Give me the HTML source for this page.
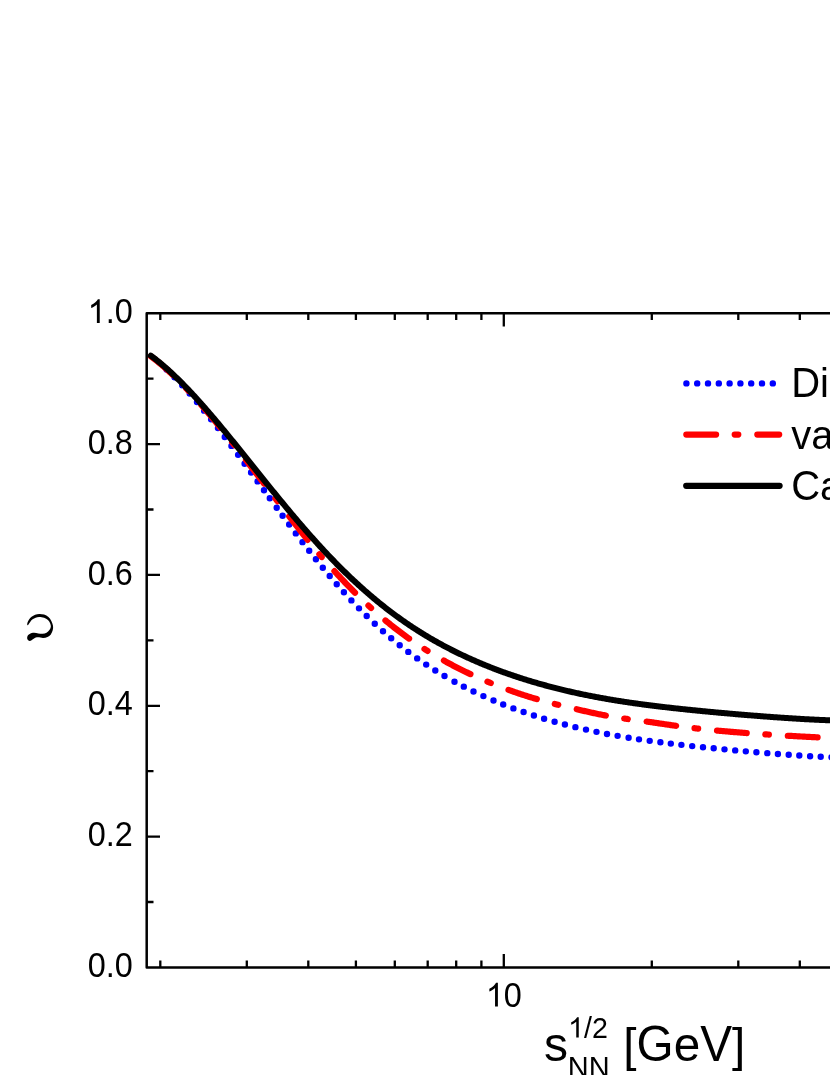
<!DOCTYPE html>
<html><head><meta charset="utf-8"><title>chart</title>
<style>html,body{margin:0;padding:0;background:#fff;}body{width:830px;height:1075px;overflow:hidden;position:relative;font-family:"Liberation Sans",sans-serif;color:#000;}svg{position:absolute;left:0;top:0;display:block;}text{font-family:"Liberation Sans",sans-serif;font-kerning:none;white-space:pre;}</style></head>
<body>
<svg width="830" height="1075" viewBox="0 0 830 1075">
<rect width="830" height="1075" fill="#fff"/>
<path d="M166.59,369.47h0 M174.56,377.27h0 M182.26,385.33h0 M189.73,393.61h0 M197.00,402.06h0 M204.12,410.64h0 M211.10,419.34h0 M217.97,428.12h0 M224.75,436.97h0 M231.45,445.88h0 M238.10,454.83h0 M244.60,463.68h0 M251.08,472.54h0 M257.54,481.42h0 M264.00,490.30h0 M269.80,498.26h0 M276.70,507.70h0 M282.60,515.71h0 M289.18,524.57h0 M295.81,533.38h0 M302.50,542.15h0 M309.20,550.77h0 M315.90,559.21h0 M322.80,567.71h0 M329.71,576.00h0 M336.74,584.19h0 M343.90,592.27h0 M351.40,600.42h0 M359.00,608.35h0 M366.70,616.05h0 M374.76,623.74h0 M383.00,631.23h0 M391.20,638.30h0 M399.70,645.26h0 M408.30,651.91h0 M417.20,658.40h0 M426.20,664.59h0 M435.30,670.46h0 M444.50,676.04h0 M454.50,681.72h0 M463.80,686.66h0 M473.50,691.50h0 M483.40,696.12h0 M493.50,700.53h0 M503.20,704.49h0 M513.40,708.40h0 M523.60,712.06h0 M533.90,715.51h0 M544.10,718.69h0 M554.60,721.75h0 M564.90,724.53h0 M575.40,727.16h0 M586.00,729.61h0 M596.50,731.86h0 M607.00,733.93h0 M617.60,735.87h0 M628.60,737.71h0 M639.00,739.33h0 M649.70,740.87h0 M660.40,742.30h0 M670.80,743.61h0 M681.40,744.86h0 M692.20,746.08h0 M703.00,747.23h0 M713.70,748.32h0 M724.50,749.37h0 M735.20,750.38h0 M745.80,751.33h0 M756.40,752.25h0 M767.30,753.16h0 M777.90,753.99h0 M788.70,754.79h0 M799.30,755.53h0 M810.10,756.20h0 M820.70,756.80h0 M831.47,757.31h0" fill="none" stroke="#0000ff" stroke-width="6.4" stroke-linecap="round"/>
<path d="M150.8,356.23 L151.8,356.97 L152.8,357.73 L153.8,358.50 L154.8,359.28 L155.8,360.06 L156.8,360.86 L157.8,361.67 L158.8,362.49 L159.8,363.32 L160.8,364.16 L161.8,365.00 L162.8,365.86 L163.8,366.73 L164.8,367.60 L165.8,368.49 L166.8,369.38 L167.8,370.28 L168.8,371.19 L169.8,372.11 L170.8,373.04 L171.8,373.98 L172.8,374.92 L173.8,375.88 L174.8,376.84 L175.8,377.81 L176.8,378.79 L177.8,379.77 L178.8,380.77 L179.8,381.77 L180.8,382.78 L181.8,383.79 L182.8,384.82 L183.8,385.85 L184.8,386.89 L185.8,387.93 L186.8,388.98 L187.8,390.04 L188.8,391.11 L189.8,392.18 L190.8,393.26 L191.8,394.34 L192.8,395.43 L193.8,396.53 L194.8,397.63 L195.8,398.74 L196.8,399.86 L197.8,400.98 L198.8,402.11 L199.8,403.24 L200.8,404.38 L201.8,405.52 L202.8,406.67 L203.8,407.82 L204.8,408.98 L205.8,410.15 L206.8,411.31 L207.8,412.49 L208.8,413.67 L209.8,414.85 L210.8,416.04 L211.8,417.23 L212.8,418.43 L213.8,419.63 L214.8,420.83 L215.8,422.04 L216.8,423.26 L217.8,424.47 L218.8,425.70 L219.8,426.92 L220.8,428.15 L221.8,429.38 L222.8,430.62 L223.8,431.86 L224.8,433.10 L225.8,434.35 L226.8,435.59 L227.8,436.85 L228.8,438.10 L229.8,439.36 L230.8,440.62 L231.8,441.88 L232.8,443.15 L233.8,444.42 L234.8,445.69 L235.8,446.96 L236.8,448.24 L237.8,449.52 L238.8,450.80 L239.8,452.08 L240.8,453.36 L241.8,454.65 L242.8,455.94 L243.8,457.23 L244.8,458.52 L245.8,459.81 L246.8,461.10 L247.8,462.40 L248.8,463.70 L249.8,465.00 L250.8,466.29 L251.8,467.60 L252.8,468.90 L253.8,470.20 L254.8,471.50 L255.8,472.81 L256.8,474.11 L257.8,475.42 L258.8,476.72 L259.8,478.03 L260.8,479.34 L261.8,480.65 L262.8,481.95 L263.8,483.26 L264.8,484.57 L265.8,485.88 L266.8,487.19 L267.8,488.50 L268.8,489.80 L269.8,491.11 L270.8,492.42 L271.8,493.73 L272.8,495.03 L273.8,496.34 L274.8,497.65 L275.8,498.95 L276.8,500.26 L277.8,501.56 L278.8,502.86 L279.8,504.17 L280.8,505.47 L281.8,506.77 L282.8,508.07 L283.8,509.37 L284.8,510.67 L285.8,511.96 L286.8,513.26 L287.8,514.55 L288.8,515.85 L289.8,517.14 L290.8,518.43 L291.8,519.72 L292.8,521.00 L293.8,522.29 L294.8,523.57 L295.8,524.85 L296.8,526.14 L297.8,527.41 L298.8,528.69 L299.8,529.97 L300.8,531.24 L301.8,532.51 L302.8,533.78 L303.8,535.05 L304.8,536.32 L305.8,537.58 L306.8,538.84 L307.8,540.10 L308.8,541.36 L309.8,542.61 L310.8,543.86 L311.8,545.11 L312.8,546.35 L313.8,547.58 L314.8,548.81 L315.8,550.03 L316.8,551.24 L317.8,552.44 L318.8,553.64 L319.8,554.82 L320.8,555.99 L321.8,557.15 L322.8,558.31 L323.8,559.45 L324.8,560.58 L325.8,561.71 L326.8,562.83 L327.8,563.94 L328.8,565.04 L329.8,566.14 L330.8,567.24 L331.8,568.33 L332.8,569.42 L333.8,570.50 L334.8,571.58 L335.8,572.66 L336.8,573.74 L337.8,574.81 L338.8,575.88 L339.8,576.95 L340.8,578.02 L341.8,579.08 L342.8,580.13 L343.8,581.19 L344.8,582.24 L345.8,583.28 L346.8,584.33 L347.8,585.36 L348.8,586.40 L349.8,587.42 L350.8,588.45 L351.8,589.46 L352.8,590.48 L353.8,591.48 L354.8,592.48 L355.8,593.48 L356.8,594.47 L357.8,595.45 L358.8,596.43 L359.8,597.41 L360.8,598.37 L361.8,599.34 L362.8,600.29 L363.8,601.24 L364.8,602.19 L365.8,603.13 L366.8,604.06 L367.8,604.99 L368.8,605.91 L369.8,606.83 L370.8,607.74 L371.8,608.65 L372.8,609.55 L373.8,610.44 L374.8,611.33 L375.8,612.22 L376.8,613.09 L377.8,613.97 L378.8,614.83 L379.8,615.70 L380.8,616.55 L381.8,617.40 L382.8,618.25 L383.8,619.09 L384.8,619.93 L385.8,620.76 L386.8,621.58 L387.8,622.40 L388.8,623.21 L389.8,624.02 L390.8,624.82 L391.8,625.62 L392.8,626.42 L393.8,627.20 L394.8,627.99 L395.8,628.76 L396.8,629.54 L397.8,630.30 L398.8,631.07 L399.8,631.82 L400.8,632.58 L401.8,633.32 L402.8,634.06 L403.8,634.80 L404.8,635.53 L405.8,636.26 L406.8,636.98 L407.8,637.70 L408.8,638.41 L409.8,639.12 L410.8,639.83 L411.8,640.52 L412.8,641.22 L413.8,641.91 L414.8,642.59 L415.8,643.27 L416.8,643.95 L417.8,644.62 L418.8,645.28 L419.8,645.94 L420.8,646.60 L421.8,647.25 L422.8,647.90 L423.8,648.54 L424.8,649.18 L425.8,649.82 L426.8,650.45 L427.8,651.07 L428.8,651.69 L429.8,652.31 L430.8,652.92 L431.8,653.53 L432.8,654.14 L433.8,654.74 L434.8,655.33 L435.8,655.93 L436.8,656.51 L437.8,657.10 L438.8,657.68 L439.8,658.25 L440.8,658.82 L441.8,659.39 L442.8,659.96 L443.8,660.52 L444.8,661.07 L445.8,661.63 L446.8,662.18 L447.8,662.72 L448.8,663.26 L449.8,663.80 L450.8,664.33 L451.8,664.86 L452.8,665.39 L453.8,665.91 L454.8,666.43 L455.8,666.95 L456.8,667.46 L457.8,667.97 L458.8,668.48 L459.8,668.98 L460.8,669.48 L461.8,669.97 L462.8,670.47 L463.8,670.96 L464.8,671.44 L465.8,671.92 L466.8,672.40 L467.8,672.88 L468.8,673.35 L469.8,673.82 L470.8,674.29 L471.8,674.75 L472.8,675.21 L473.8,675.67 L474.8,676.13 L475.8,676.58 L476.8,677.03 L477.8,677.47 L478.8,677.92 L479.8,678.36 L480.8,678.79 L481.8,679.23 L482.8,679.66 L483.8,680.09 L484.8,680.51 L485.8,680.94 L486.8,681.36 L487.8,681.78 L488.8,682.19 L489.8,682.60 L490.8,683.01 L491.8,683.42 L492.8,683.82 L493.8,684.23 L494.8,684.63 L495.8,685.02 L496.8,685.42 L497.8,685.81 L498.8,686.20 L499.8,686.58 L500.8,686.97 L501.8,687.35 L502.8,687.73 L503.8,688.10 L504.8,688.48 L505.8,688.85 L506.8,689.22 L507.8,689.58 L508.8,689.95 L509.8,690.31 L510.8,690.67 L511.8,691.02 L512.8,691.38 L513.8,691.73 L514.8,692.07 L515.8,692.42 L516.8,692.76 L517.8,693.10 L518.8,693.44 L519.8,693.78 L520.8,694.11 L521.8,694.44 L522.8,694.77 L523.8,695.09 L524.8,695.42 L525.8,695.74 L526.8,696.05 L527.8,696.37 L528.8,696.68 L529.8,696.99 L530.8,697.30 L531.8,697.60 L532.8,697.91 L533.8,698.21 L534.8,698.50 L535.8,698.80 L536.8,699.09 L537.8,699.38 L538.8,699.67 L539.8,699.95 L540.8,700.24 L541.8,700.52 L542.8,700.79 L543.8,701.07 L544.8,701.34 L545.8,701.61 L546.8,701.88 L547.8,702.15 L548.8,702.41 L549.8,702.68 L550.8,702.94 L551.8,703.20 L552.8,703.46 L553.8,703.71 L554.8,703.97 L555.8,704.22 L556.8,704.47 L557.8,704.72 L558.8,704.97 L559.8,705.22 L560.8,705.46 L561.8,705.71 L562.8,705.95 L563.8,706.19 L564.8,706.43 L565.8,706.67 L566.8,706.91 L567.8,707.15 L568.8,707.39 L569.8,707.63 L570.8,707.86 L571.8,708.10 L572.8,708.33 L573.8,708.57 L574.8,708.80 L575.8,709.03 L576.8,709.27 L577.8,709.50 L578.8,709.73 L579.8,709.96 L580.8,710.19 L581.8,710.43 L582.8,710.66 L583.8,710.89 L584.8,711.11 L585.8,711.34 L586.8,711.57 L587.8,711.79 L588.8,712.02 L589.8,712.24 L590.8,712.46 L591.8,712.68 L592.8,712.90 L593.8,713.12 L594.8,713.33 L595.8,713.54 L596.8,713.75 L597.8,713.96 L598.8,714.17 L599.8,714.37 L600.8,714.57 L601.8,714.77 L602.8,714.97 L603.8,715.16 L604.8,715.35 L605.8,715.54 L606.8,715.72 L607.8,715.90 L608.8,716.08 L609.8,716.26 L610.8,716.43 L611.8,716.60 L612.8,716.77 L613.8,716.93 L614.8,717.09 L615.8,717.25 L616.8,717.41 L617.8,717.57 L618.8,717.72 L619.8,717.87 L620.8,718.02 L621.8,718.17 L622.8,718.31 L623.8,718.46 L624.8,718.60 L625.8,718.74 L626.8,718.88 L627.8,719.02 L628.8,719.16 L629.8,719.29 L630.8,719.43 L631.8,719.56 L632.8,719.69 L633.8,719.83 L634.8,719.96 L635.8,720.09 L636.8,720.23 L637.8,720.36 L638.8,720.49 L639.8,720.62 L640.8,720.76 L641.8,720.89 L642.8,721.02 L643.8,721.16 L644.8,721.30 L645.8,721.43 L646.8,721.57 L647.8,721.71 L648.8,721.85 L649.8,721.99 L650.8,722.14 L651.8,722.28 L652.8,722.42 L653.8,722.57 L654.8,722.72 L655.8,722.86 L656.8,723.01 L657.8,723.16 L658.8,723.31 L659.8,723.46 L660.8,723.61 L661.8,723.75 L662.8,723.90 L663.8,724.05 L664.8,724.20 L665.8,724.35 L666.8,724.50 L667.8,724.65 L668.8,724.79 L669.8,724.94 L670.8,725.08 L671.8,725.23 L672.8,725.37 L673.8,725.52 L674.8,725.66 L675.8,725.80 L676.8,725.94 L677.8,726.08 L678.8,726.21 L679.8,726.35 L680.8,726.48 L681.8,726.62 L682.8,726.75 L683.8,726.88 L684.8,727.01 L685.8,727.13 L686.8,727.26 L687.8,727.38 L688.8,727.51 L689.8,727.63 L690.8,727.75 L691.8,727.87 L692.8,727.99 L693.8,728.11 L694.8,728.23 L695.8,728.34 L696.8,728.46 L697.8,728.57 L698.8,728.68 L699.8,728.79 L700.8,728.90 L701.8,729.01 L702.8,729.12 L703.8,729.23 L704.8,729.33 L705.8,729.44 L706.8,729.54 L707.8,729.65 L708.8,729.75 L709.8,729.85 L710.8,729.95 L711.8,730.05 L712.8,730.15 L713.8,730.25 L714.8,730.34 L715.8,730.44 L716.8,730.53 L717.8,730.63 L718.8,730.72 L719.8,730.82 L720.8,730.91 L721.8,731.00 L722.8,731.09 L723.8,731.18 L724.8,731.27 L725.8,731.36 L726.8,731.44 L727.8,731.53 L728.8,731.62 L729.8,731.70 L730.8,731.79 L731.8,731.87 L732.8,731.95 L733.8,732.04 L734.8,732.12 L735.8,732.20 L736.8,732.28 L737.8,732.36 L738.8,732.44 L739.8,732.52 L740.8,732.60 L741.8,732.68 L742.8,732.75 L743.8,732.83 L744.8,732.91 L745.8,732.98 L746.8,733.06 L747.8,733.13 L748.8,733.21 L749.8,733.28 L750.8,733.35 L751.8,733.43 L752.8,733.50 L753.8,733.57 L754.8,733.64 L755.8,733.71 L756.8,733.78 L757.8,733.85 L758.8,733.92 L759.8,733.99 L760.8,734.06 L761.8,734.12 L762.8,734.19 L763.8,734.26 L764.8,734.32 L765.8,734.39 L766.8,734.46 L767.8,734.52 L768.8,734.59 L769.8,734.65 L770.8,734.71 L771.8,734.78 L772.8,734.84 L773.8,734.90 L774.8,734.97 L775.8,735.03 L776.8,735.09 L777.8,735.15 L778.8,735.21 L779.8,735.27 L780.8,735.33 L781.8,735.39 L782.8,735.45 L783.8,735.51 L784.8,735.57 L785.8,735.63 L786.8,735.69 L787.8,735.75 L788.8,735.80 L789.8,735.86 L790.8,735.92 L791.8,735.97 L792.8,736.03 L793.8,736.09 L794.8,736.14 L795.8,736.20 L796.8,736.25 L797.8,736.31 L798.8,736.36 L799.8,736.41 L800.8,736.47 L801.8,736.52 L802.8,736.57 L803.8,736.63 L804.8,736.68 L805.8,736.73 L806.8,736.78 L807.8,736.83 L808.8,736.88 L809.8,736.93 L810.8,736.98 L811.8,737.03 L812.8,737.08 L813.8,737.13 L814.8,737.18 L815.8,737.23 L816.8,737.28 L817.8,737.33 L818.8,737.37 L819.8,737.42 L820.8,737.47 L821.8,737.51 L822.8,737.56 L823.8,737.61 L824.8,737.65 L825.8,737.70 L826.8,737.74 L827.8,737.79 L828.8,737.83 L829.8,737.87 L830.8,737.92 L831.8,737.96 L832.8,738.00 L833.8,738.04 L834.8,738.08 L835.8,738.13 L836.8,738.17 L837.8,738.21" fill="none" stroke="#ff0000" stroke-width="6.2" stroke-linecap="round" stroke-linejoin="round" stroke-dasharray="29.8 18.6 3.6 19.0" stroke-dashoffset="0.6905294201031609"/>
<path d="M150.8,355.68 L151.8,356.41 L152.8,357.16 L153.8,357.92 L154.8,358.69 L155.8,359.47 L156.8,360.26 L157.8,361.06 L158.8,361.87 L159.8,362.69 L160.8,363.52 L161.8,364.36 L162.8,365.21 L163.8,366.06 L164.8,366.93 L165.8,367.81 L166.8,368.69 L167.8,369.59 L168.8,370.49 L169.8,371.40 L170.8,372.32 L171.8,373.25 L172.8,374.18 L173.8,375.13 L174.8,376.08 L175.8,377.04 L176.8,378.01 L177.8,378.98 L178.8,379.97 L179.8,380.96 L180.8,381.96 L181.8,382.96 L182.8,383.97 L183.8,384.99 L184.8,386.02 L185.8,387.05 L186.8,388.09 L187.8,389.14 L188.8,390.19 L189.8,391.25 L190.8,392.32 L191.8,393.39 L192.8,394.46 L193.8,395.55 L194.8,396.64 L195.8,397.73 L196.8,398.83 L197.8,399.94 L198.8,401.05 L199.8,402.16 L200.8,403.29 L201.8,404.41 L202.8,405.54 L203.8,406.68 L204.8,407.82 L205.8,408.97 L206.8,410.11 L207.8,411.27 L208.8,412.43 L209.8,413.59 L210.8,414.76 L211.8,415.93 L212.8,417.10 L213.8,418.28 L214.8,419.46 L215.8,420.65 L216.8,421.84 L217.8,423.03 L218.8,424.22 L219.8,425.42 L220.8,426.62 L221.8,427.83 L222.8,429.04 L223.8,430.25 L224.8,431.46 L225.8,432.68 L226.8,433.89 L227.8,435.11 L228.8,436.34 L229.8,437.56 L230.8,438.79 L231.8,440.02 L232.8,441.25 L233.8,442.48 L234.8,443.72 L235.8,444.95 L236.8,446.19 L237.8,447.43 L238.8,448.67 L239.8,449.91 L240.8,451.15 L241.8,452.40 L242.8,453.64 L243.8,454.89 L244.8,456.13 L245.8,457.38 L246.8,458.63 L247.8,459.88 L248.8,461.13 L249.8,462.38 L250.8,463.63 L251.8,464.87 L252.8,466.12 L253.8,467.37 L254.8,468.62 L255.8,469.87 L256.8,471.12 L257.8,472.37 L258.8,473.62 L259.8,474.87 L260.8,476.12 L261.8,477.36 L262.8,478.61 L263.8,479.85 L264.8,481.10 L265.8,482.34 L266.8,483.58 L267.8,484.82 L268.8,486.06 L269.8,487.30 L270.8,488.54 L271.8,489.77 L272.8,491.01 L273.8,492.24 L274.8,493.47 L275.8,494.70 L276.8,495.93 L277.8,497.15 L278.8,498.38 L279.8,499.60 L280.8,500.82 L281.8,502.03 L282.8,503.25 L283.8,504.46 L284.8,505.67 L285.8,506.88 L286.8,508.09 L287.8,509.29 L288.8,510.49 L289.8,511.69 L290.8,512.88 L291.8,514.07 L292.8,515.26 L293.8,516.45 L294.8,517.63 L295.8,518.81 L296.8,519.99 L297.8,521.16 L298.8,522.33 L299.8,523.50 L300.8,524.67 L301.8,525.83 L302.8,526.99 L303.8,528.14 L304.8,529.29 L305.8,530.44 L306.8,531.58 L307.8,532.72 L308.8,533.86 L309.8,534.99 L310.8,536.12 L311.8,537.25 L312.8,538.37 L313.8,539.48 L314.8,540.60 L315.8,541.71 L316.8,542.81 L317.8,543.91 L318.8,545.01 L319.8,546.11 L320.8,547.19 L321.8,548.28 L322.8,549.36 L323.8,550.44 L324.8,551.51 L325.8,552.58 L326.8,553.64 L327.8,554.70 L328.8,555.75 L329.8,556.81 L330.8,557.85 L331.8,558.89 L332.8,559.93 L333.8,560.96 L334.8,561.99 L335.8,563.01 L336.8,564.03 L337.8,565.05 L338.8,566.06 L339.8,567.06 L340.8,568.06 L341.8,569.06 L342.8,570.05 L343.8,571.03 L344.8,572.01 L345.8,572.99 L346.8,573.96 L347.8,574.93 L348.8,575.89 L349.8,576.85 L350.8,577.80 L351.8,578.75 L352.8,579.69 L353.8,580.63 L354.8,581.56 L355.8,582.49 L356.8,583.41 L357.8,584.33 L358.8,585.24 L359.8,586.15 L360.8,587.05 L361.8,587.95 L362.8,588.84 L363.8,589.73 L364.8,590.62 L365.8,591.49 L366.8,592.37 L367.8,593.24 L368.8,594.10 L369.8,594.96 L370.8,595.81 L371.8,596.66 L372.8,597.51 L373.8,598.35 L374.8,599.18 L375.8,600.01 L376.8,600.84 L377.8,601.66 L378.8,602.47 L379.8,603.28 L380.8,604.09 L381.8,604.89 L382.8,605.68 L383.8,606.47 L384.8,607.26 L385.8,608.04 L386.8,608.82 L387.8,609.59 L388.8,610.36 L389.8,611.12 L390.8,611.88 L391.8,612.63 L392.8,613.38 L393.8,614.12 L394.8,614.86 L395.8,615.60 L396.8,616.33 L397.8,617.05 L398.8,617.77 L399.8,618.49 L400.8,619.20 L401.8,619.91 L402.8,620.61 L403.8,621.31 L404.8,622.01 L405.8,622.69 L406.8,623.38 L407.8,624.06 L408.8,624.74 L409.8,625.41 L410.8,626.08 L411.8,626.74 L412.8,627.40 L413.8,628.05 L414.8,628.70 L415.8,629.35 L416.8,629.99 L417.8,630.63 L418.8,631.26 L419.8,631.89 L420.8,632.52 L421.8,633.14 L422.8,633.76 L423.8,634.37 L424.8,634.98 L425.8,635.59 L426.8,636.19 L427.8,636.78 L428.8,637.38 L429.8,637.97 L430.8,638.55 L431.8,639.13 L432.8,639.71 L433.8,640.28 L434.8,640.85 L435.8,641.42 L436.8,641.98 L437.8,642.54 L438.8,643.10 L439.8,643.65 L440.8,644.19 L441.8,644.74 L442.8,645.28 L443.8,645.81 L444.8,646.35 L445.8,646.88 L446.8,647.40 L447.8,647.93 L448.8,648.44 L449.8,648.96 L450.8,649.47 L451.8,649.98 L452.8,650.49 L453.8,650.99 L454.8,651.49 L455.8,651.98 L456.8,652.48 L457.8,652.96 L458.8,653.45 L459.8,653.93 L460.8,654.41 L461.8,654.89 L462.8,655.36 L463.8,655.83 L464.8,656.30 L465.8,656.76 L466.8,657.22 L467.8,657.68 L468.8,658.14 L469.8,658.59 L470.8,659.04 L471.8,659.48 L472.8,659.92 L473.8,660.36 L474.8,660.80 L475.8,661.24 L476.8,661.67 L477.8,662.10 L478.8,662.52 L479.8,662.94 L480.8,663.36 L481.8,663.78 L482.8,664.20 L483.8,664.61 L484.8,665.02 L485.8,665.43 L486.8,665.83 L487.8,666.23 L488.8,666.63 L489.8,667.03 L490.8,667.42 L491.8,667.81 L492.8,668.20 L493.8,668.58 L494.8,668.97 L495.8,669.35 L496.8,669.73 L497.8,670.10 L498.8,670.48 L499.8,670.85 L500.8,671.22 L501.8,671.58 L502.8,671.95 L503.8,672.31 L504.8,672.67 L505.8,673.02 L506.8,673.38 L507.8,673.73 L508.8,674.08 L509.8,674.43 L510.8,674.77 L511.8,675.11 L512.8,675.45 L513.8,675.79 L514.8,676.13 L515.8,676.46 L516.8,676.80 L517.8,677.12 L518.8,677.45 L519.8,677.78 L520.8,678.10 L521.8,678.42 L522.8,678.74 L523.8,679.06 L524.8,679.37 L525.8,679.68 L526.8,680.00 L527.8,680.30 L528.8,680.61 L529.8,680.91 L530.8,681.22 L531.8,681.52 L532.8,681.82 L533.8,682.11 L534.8,682.41 L535.8,682.70 L536.8,682.99 L537.8,683.28 L538.8,683.56 L539.8,683.85 L540.8,684.13 L541.8,684.41 L542.8,684.69 L543.8,684.97 L544.8,685.24 L545.8,685.51 L546.8,685.79 L547.8,686.06 L548.8,686.32 L549.8,686.59 L550.8,686.85 L551.8,687.11 L552.8,687.37 L553.8,687.63 L554.8,687.89 L555.8,688.14 L556.8,688.40 L557.8,688.65 L558.8,688.90 L559.8,689.14 L560.8,689.39 L561.8,689.63 L562.8,689.88 L563.8,690.12 L564.8,690.35 L565.8,690.59 L566.8,690.83 L567.8,691.06 L568.8,691.29 L569.8,691.52 L570.8,691.75 L571.8,691.98 L572.8,692.20 L573.8,692.43 L574.8,692.65 L575.8,692.87 L576.8,693.09 L577.8,693.30 L578.8,693.52 L579.8,693.73 L580.8,693.94 L581.8,694.15 L582.8,694.36 L583.8,694.57 L584.8,694.78 L585.8,694.98 L586.8,695.18 L587.8,695.38 L588.8,695.58 L589.8,695.78 L590.8,695.98 L591.8,696.17 L592.8,696.37 L593.8,696.56 L594.8,696.75 L595.8,696.94 L596.8,697.13 L597.8,697.32 L598.8,697.50 L599.8,697.68 L600.8,697.87 L601.8,698.05 L602.8,698.23 L603.8,698.41 L604.8,698.58 L605.8,698.76 L606.8,698.93 L607.8,699.11 L608.8,699.28 L609.8,699.45 L610.8,699.62 L611.8,699.78 L612.8,699.95 L613.8,700.12 L614.8,700.28 L615.8,700.44 L616.8,700.60 L617.8,700.76 L618.8,700.92 L619.8,701.08 L620.8,701.24 L621.8,701.39 L622.8,701.55 L623.8,701.70 L624.8,701.85 L625.8,702.00 L626.8,702.15 L627.8,702.30 L628.8,702.45 L629.8,702.60 L630.8,702.74 L631.8,702.89 L632.8,703.03 L633.8,703.17 L634.8,703.31 L635.8,703.45 L636.8,703.59 L637.8,703.73 L638.8,703.87 L639.8,704.01 L640.8,704.14 L641.8,704.28 L642.8,704.41 L643.8,704.54 L644.8,704.67 L645.8,704.81 L646.8,704.94 L647.8,705.07 L648.8,705.19 L649.8,705.32 L650.8,705.45 L651.8,705.57 L652.8,705.70 L653.8,705.82 L654.8,705.95 L655.8,706.07 L656.8,706.19 L657.8,706.31 L658.8,706.43 L659.8,706.55 L660.8,706.67 L661.8,706.79 L662.8,706.91 L663.8,707.02 L664.8,707.14 L665.8,707.26 L666.8,707.37 L667.8,707.49 L668.8,707.60 L669.8,707.71 L670.8,707.82 L671.8,707.94 L672.8,708.05 L673.8,708.16 L674.8,708.27 L675.8,708.38 L676.8,708.49 L677.8,708.60 L678.8,708.70 L679.8,708.81 L680.8,708.92 L681.8,709.02 L682.8,709.13 L683.8,709.23 L684.8,709.34 L685.8,709.44 L686.8,709.55 L687.8,709.65 L688.8,709.75 L689.8,709.85 L690.8,709.96 L691.8,710.06 L692.8,710.16 L693.8,710.26 L694.8,710.36 L695.8,710.46 L696.8,710.56 L697.8,710.66 L698.8,710.76 L699.8,710.85 L700.8,710.95 L701.8,711.05 L702.8,711.14 L703.8,711.24 L704.8,711.34 L705.8,711.43 L706.8,711.53 L707.8,711.62 L708.8,711.72 L709.8,711.81 L710.8,711.90 L711.8,712.00 L712.8,712.09 L713.8,712.18 L714.8,712.28 L715.8,712.37 L716.8,712.46 L717.8,712.55 L718.8,712.64 L719.8,712.73 L720.8,712.82 L721.8,712.91 L722.8,713.00 L723.8,713.09 L724.8,713.18 L725.8,713.27 L726.8,713.36 L727.8,713.44 L728.8,713.53 L729.8,713.62 L730.8,713.71 L731.8,713.79 L732.8,713.88 L733.8,713.97 L734.8,714.05 L735.8,714.14 L736.8,714.22 L737.8,714.31 L738.8,714.39 L739.8,714.48 L740.8,714.56 L741.8,714.64 L742.8,714.73 L743.8,714.81 L744.8,714.89 L745.8,714.97 L746.8,715.06 L747.8,715.14 L748.8,715.22 L749.8,715.30 L750.8,715.38 L751.8,715.46 L752.8,715.54 L753.8,715.62 L754.8,715.70 L755.8,715.78 L756.8,715.86 L757.8,715.93 L758.8,716.01 L759.8,716.09 L760.8,716.17 L761.8,716.24 L762.8,716.32 L763.8,716.40 L764.8,716.47 L765.8,716.55 L766.8,716.62 L767.8,716.70 L768.8,716.77 L769.8,716.85 L770.8,716.92 L771.8,716.99 L772.8,717.06 L773.8,717.14 L774.8,717.21 L775.8,717.28 L776.8,717.35 L777.8,717.42 L778.8,717.49 L779.8,717.56 L780.8,717.63 L781.8,717.70 L782.8,717.77 L783.8,717.83 L784.8,717.90 L785.8,717.97 L786.8,718.03 L787.8,718.10 L788.8,718.17 L789.8,718.23 L790.8,718.29 L791.8,718.36 L792.8,718.42 L793.8,718.48 L794.8,718.55 L795.8,718.61 L796.8,718.67 L797.8,718.73 L798.8,718.79 L799.8,718.85 L800.8,718.91 L801.8,718.96 L802.8,719.02 L803.8,719.08 L804.8,719.13 L805.8,719.19 L806.8,719.24 L807.8,719.30 L808.8,719.35 L809.8,719.40 L810.8,719.46 L811.8,719.51 L812.8,719.56 L813.8,719.61 L814.8,719.66 L815.8,719.71 L816.8,719.75 L817.8,719.80 L818.8,719.85 L819.8,719.89 L820.8,719.94 L821.8,719.98 L822.8,720.02 L823.8,720.06 L824.8,720.11 L825.8,720.15 L826.8,720.19 L827.8,720.22 L828.8,720.26 L829.8,720.30 L830.8,720.33 L831.8,720.37 L832.8,720.40 L833.8,720.43 L834.8,720.47 L835.8,720.50 L836.8,720.53 L837.8,720.56" fill="none" stroke="#000" stroke-width="6.0" stroke-linecap="round" stroke-linejoin="round"/>
<path d="M840,313.3 L146.7,313.3 L146.7,967.4 L840,967.4" fill="none" stroke="#000" stroke-width="2.5" stroke-linejoin="round"/>
<path d="M160.3,967.4 v-6.8 M160.3,313.3 v6.8 M246.8,967.4 v-6.8 M246.8,313.3 v6.8 M308.3,967.4 v-6.8 M308.3,313.3 v6.8 M355.9,967.4 v-6.8 M355.9,313.3 v6.8 M394.8,967.4 v-6.8 M394.8,313.3 v6.8 M427.7,967.4 v-6.8 M427.7,313.3 v6.8 M456.2,967.4 v-6.8 M456.2,313.3 v6.8 M481.4,967.4 v-6.8 M481.4,313.3 v6.8 M503.8,967.4 v-13.3 M503.8,313.3 v13.3 M651.8,967.4 v-6.8 M651.8,313.3 v6.8 M738.3,967.4 v-6.8 M738.3,313.3 v6.8 M799.8,967.4 v-6.8 M799.8,313.3 v6.8 M146.7,902.0 h6.8 M146.7,836.6 h13.3 M146.7,771.2 h6.8 M146.7,705.8 h13.3 M146.7,640.4 h6.8 M146.7,574.9 h13.3 M146.7,509.5 h6.8 M146.7,444.1 h13.3 M146.7,378.7 h6.8" fill="none" stroke="#000" stroke-width="2.3"/>
<path d="M686.4,383.4 H776" fill="none" stroke="#0000ff" stroke-width="6.4" stroke-linecap="round" stroke-dasharray="0.01 10.79"/>
<path d="M686.3,434.6 H779.2" fill="none" stroke="#ff0000" stroke-width="6.2" stroke-linecap="round" stroke-dasharray="29.8 18.6 3.6 19.0"/>
<path d="M686.2,485.8 H779.6" fill="none" stroke="#000" stroke-width="6.2" stroke-linecap="round"/>
<path d="M27.23,624.76 C27.17,624.29 27.31,623.23 27.61,622.35 C27.92,621.47 28.40,620.38 29.06,619.46 C29.72,618.53 30.55,617.59 31.57,616.81 C32.59,616.03 33.90,615.27 35.18,614.78 C36.47,614.30 37.79,613.96 39.28,613.92 C40.76,613.88 42.57,614.04 44.10,614.54 C45.62,615.05 47.23,615.89 48.43,616.95 C49.64,618.01 50.56,619.44 51.33,620.90 C52.09,622.37 52.77,624.20 53.01,625.72 C53.25,627.25 53.13,628.61 52.77,630.06 C52.41,631.51 51.73,633.23 50.84,634.40 C49.96,635.56 48.76,636.45 47.47,637.05 C46.18,637.65 44.74,637.97 43.13,638.01 C41.53,638.05 39.28,637.25 37.83,637.29 C36.39,637.33 35.50,637.77 34.46,638.25 C33.41,638.73 32.37,639.74 31.57,640.18 C30.76,640.62 30.28,640.98 29.64,640.90 C29.00,640.82 28.13,640.22 27.71,639.70 C27.29,639.18 27.09,638.49 27.13,637.77 C27.17,637.05 27.45,636.04 27.95,635.36 C28.45,634.68 29.12,634.09 30.12,633.67 C31.12,633.26 32.61,632.90 33.98,632.86 C35.34,632.82 36.87,633.27 38.31,633.43 C39.76,633.59 41.29,633.94 42.65,633.82 C44.02,633.70 45.38,633.34 46.51,632.71 C47.63,632.08 48.67,631.06 49.40,630.06 C50.12,629.06 50.72,627.81 50.84,626.69 C50.96,625.56 50.60,624.44 50.12,623.31 C49.64,622.19 48.96,620.86 47.95,619.94 C46.95,619.02 45.54,618.25 44.10,617.77 C42.65,617.29 40.68,617.06 39.28,617.05 C37.87,617.03 36.77,617.29 35.66,617.67 C34.55,618.06 33.51,618.70 32.63,619.36 C31.74,620.02 31.00,620.85 30.36,621.63 C29.72,622.41 29.17,623.45 28.77,624.04 C28.37,624.62 28.21,625.02 27.95,625.14 C27.69,625.27 27.29,625.22 27.23,624.76Z" fill="#000"/>
<g style="will-change:transform" font-family="Liberation Sans, sans-serif" fill="#000" font-kerning="none">
<text transform="translate(87.66,977.00) scale(1,1.06)" font-size="32.4">0.0</text><text transform="translate(87.66,846.18) scale(1,1.06)" font-size="32.4">0.2</text><text transform="translate(87.66,715.36) scale(1,1.06)" font-size="32.4">0.4</text><text transform="translate(87.66,584.54) scale(1,1.06)" font-size="32.4">0.6</text><text transform="translate(87.66,453.72) scale(1,1.06)" font-size="32.4">0.8</text><path transform="translate(87.66,322.90) scale(0.01582,-0.01612)" d="M763 0H583V1147Q518 1085 412.5 1023Q307 961 223 930V1104Q374 1175 487 1276Q600 1377 647 1472H763Z"/><text transform="translate(105.68,322.90) scale(1,1.06)" font-size="32.4">.0</text><path transform="translate(485.82,1006.60) scale(0.01582,-0.01612)" d="M763 0H583V1147Q518 1085 412.5 1023Q307 961 223 930V1104Q374 1175 487 1276Q600 1377 647 1472H763Z"/><text transform="translate(503.84,1006.60) scale(1,1.06)" font-size="32.4">0</text><text transform="translate(791.20,397.30) scale(1,1.075)" font-size="40">D</text><text transform="translate(820.09,397.30) scale(1,1.0)" font-size="40">irac</text><text transform="translate(791.20,448.50) scale(1,1.0)" font-size="40">van der Waals</text><text transform="translate(791.20,499.90) scale(1,1.075)" font-size="40">C</text><text transform="translate(820.09,499.90) scale(1,1.0)" font-size="40">arnahan-Starling</text><text transform="translate(544.10,1060.80) scale(1,1.0)" font-size="48">s</text><path transform="translate(568.10,1037.55) scale(0.01396,-0.01383)" d="M763 0H583V1147Q518 1085 412.5 1023Q307 961 223 930V1104Q374 1175 487 1276Q600 1377 647 1472H763Z"/><text transform="translate(584.01,1037.55) scale(1,1.03)" font-size="28.6">/2</text><text transform="translate(567.70,1077.20) scale(1,1.04)" font-size="29">NN</text><text transform="translate(623.30,1060.80) scale(1,0.97)" font-size="47.7">[</text><text transform="translate(636.55,1060.80) scale(1,1.05)" font-size="47.7">G</text><text transform="translate(673.66,1060.80) scale(1,1.0)" font-size="47.7">e</text><text transform="translate(700.18,1060.80) scale(1,1.05)" font-size="47.7">V</text><text transform="translate(732.00,1060.80) scale(1,0.97)" font-size="47.7">]</text>
</g>
</svg>
</body></html>
